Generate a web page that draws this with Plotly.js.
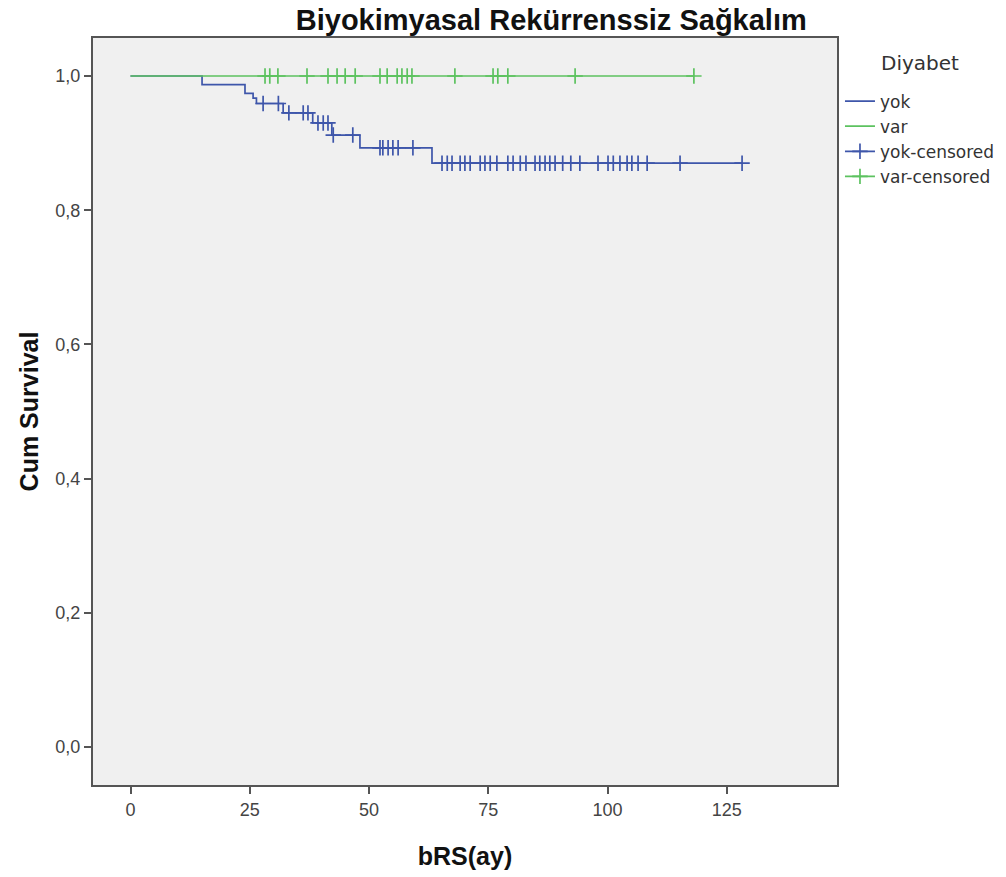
<!DOCTYPE html>
<html>
<head>
<meta charset="utf-8">
<script src="https://cdn.plot.ly/plotly-3.0.1.min.js"></script>
<style>html,body{margin:0;padding:0;background:#fff;}#chart{width:1006px;height:877px;}</style>
</head>
<body>
<div id="chart"></div>
<script>
// Kaplan-Meier step data
const yokTimes = [0, 15.0, 24.0, 25.7, 26.4, 32.0, 38.2, 42.2, 48.1, 63.2, 128.2];
const yokSurv  = [1.0, 0.987, 0.974, 0.967, 0.959, 0.945, 0.930, 0.912, 0.893, 0.870, 0.870];
const varTimes = [0, 118.1];
const varSurv  = [1.0, 1.0];

// censored observations (months)
const yokCensored = [27.8, 31.0, 33.2, 36.2, 37.2, 39.3, 40.4, 41.4, 42.5, 46.6,
  52.3, 52.9, 54.0, 55.0, 56.1, 59.2,
  65.3, 66.4, 67.4, 69.1, 70.1, 71.2, 73.3, 74.3, 75.4, 76.8, 79.1, 80.2, 81.7, 82.9,
  84.8, 85.8, 86.9, 87.9, 89.0, 90.6, 92.3, 94.2, 98.0, 100.1, 101.2, 102.6, 104.1,
  105.1, 106.4, 108.3, 115.2, 128.2];
const varCensored = [28.2, 29.2, 30.9, 37.0, 41.4, 43.3, 45.0, 47.1, 52.3, 53.8, 55.9,
  56.9, 58.0, 59.0, 68.0, 76.0, 77.0, 79.1, 93.2, 118.1];

const xTicks = [0, 25, 50, 75, 100, 125];
const yTicks = [0, 0.2, 0.4, 0.6, 0.8, 1.0];
const groupTitle = 'Diyabet';

const blue = '#3e56aa';
const green = '#5cc25f';

function stepValue(times, surv, t) {
  let v = surv[0];
  for (let i = 0; i < times.length; i++) { if (times[i] <= t) v = surv[i]; }
  return v;
}
function censorXY(cens, times, surv) {
  const x = [], y = [];
  cens.forEach(t => { x.push(t, null); y.push(stepValue(times, surv, t), null); });
  return {x, y};
}
const yc = censorXY(yokCensored, yokTimes, yokSurv);
const vc = censorXY(varCensored, varTimes, varSurv);

const traces = [
  {x: yokTimes, y: yokSurv, name: 'yok', mode: 'lines', line: {shape: 'hv', color: blue, width: 1.7}},
  {x: varTimes, y: varSurv, name: 'var', mode: 'lines', line: {shape: 'hv', color: green, width: 1.7}},
  {x: yc.x, y: yc.y, name: 'yok-censored', mode: 'lines+markers', connectgaps: false,
   line: {color: blue, width: 1.7}, marker: {symbol: 'cross-thin', size: 11, line: {color: blue, width: 1.7}}},
  {x: vc.x, y: vc.y, name: 'var-censored', mode: 'lines+markers', connectgaps: false,
   line: {color: green, width: 1.7}, marker: {symbol: 'cross-thin', size: 11, line: {color: green, width: 1.7}}}
];

const layout = {
  width: 1006, height: 877,
  margin: {l: 93, r: 169, t: 38, b: 92, autoexpand: false},
  paper_bgcolor: '#ffffff',
  plot_bgcolor: '#f0f0f0',
  separators: ',.',
  font: {family: 'Liberation Sans, Arial, sans-serif', color: '#333'},
  title: {text: '<b>Biyokimyasal Rekürrenssiz Sağkalım</b>', x: 0.548, xref: 'container', xanchor: 'center',
          y: 0.977, yref: 'container', yanchor: 'middle', font: {size: 29, color: '#111'}},
  xaxis: {
    range: [-7.86, 148.1], tickvals: xTicks, ticktext: xTicks.map(String),
    showline: true, mirror: true, linecolor: '#555', linewidth: 2,
    ticks: 'outside', ticklen: 7, tickwidth: 2, tickcolor: '#555',
    showgrid: false, zeroline: false, tickfont: {size: 18, color: '#444'},
    title: {text: '<b>bRS(ay)</b>', font: {size: 25, color: '#111'}, standoff: 29}
  },
  yaxis: {
    range: [-0.0566, 1.0566], tickvals: yTicks, tickformat: '.1f',
    showline: true, mirror: true, linecolor: '#555', linewidth: 2,
    ticks: 'outside', ticklen: 7, tickwidth: 2, tickcolor: '#555',
    showgrid: false, zeroline: false, tickfont: {size: 18, color: '#444'},
    title: {text: '<b>Cum Survival</b>', font: {size: 25, color: '#111'}, standoff: 10}
  },
  showlegend: true,
  legend: {
    x: 1.004, xanchor: 'left', y: 0.939, yanchor: 'top',
    traceorder: 'normal', tracegroupgap: 0, itemwidth: 30,
    font: {family: 'DejaVu Sans, sans-serif', size: 17, color: '#333'}, bgcolor: 'rgba(0,0,0,0)'
  },
  annotations: [{
    text: groupTitle, xref: 'paper', yref: 'paper', x: 1.1116, y: 0.9665,
    xanchor: 'center', yanchor: 'middle', showarrow: false,
    font: {family: 'DejaVu Sans, sans-serif', size: 20, color: '#333'}
  }]
};

Plotly.newPlot('chart', traces, layout, {displayModeBar: false, staticPlot: true});
</script>
</body>
</html>
